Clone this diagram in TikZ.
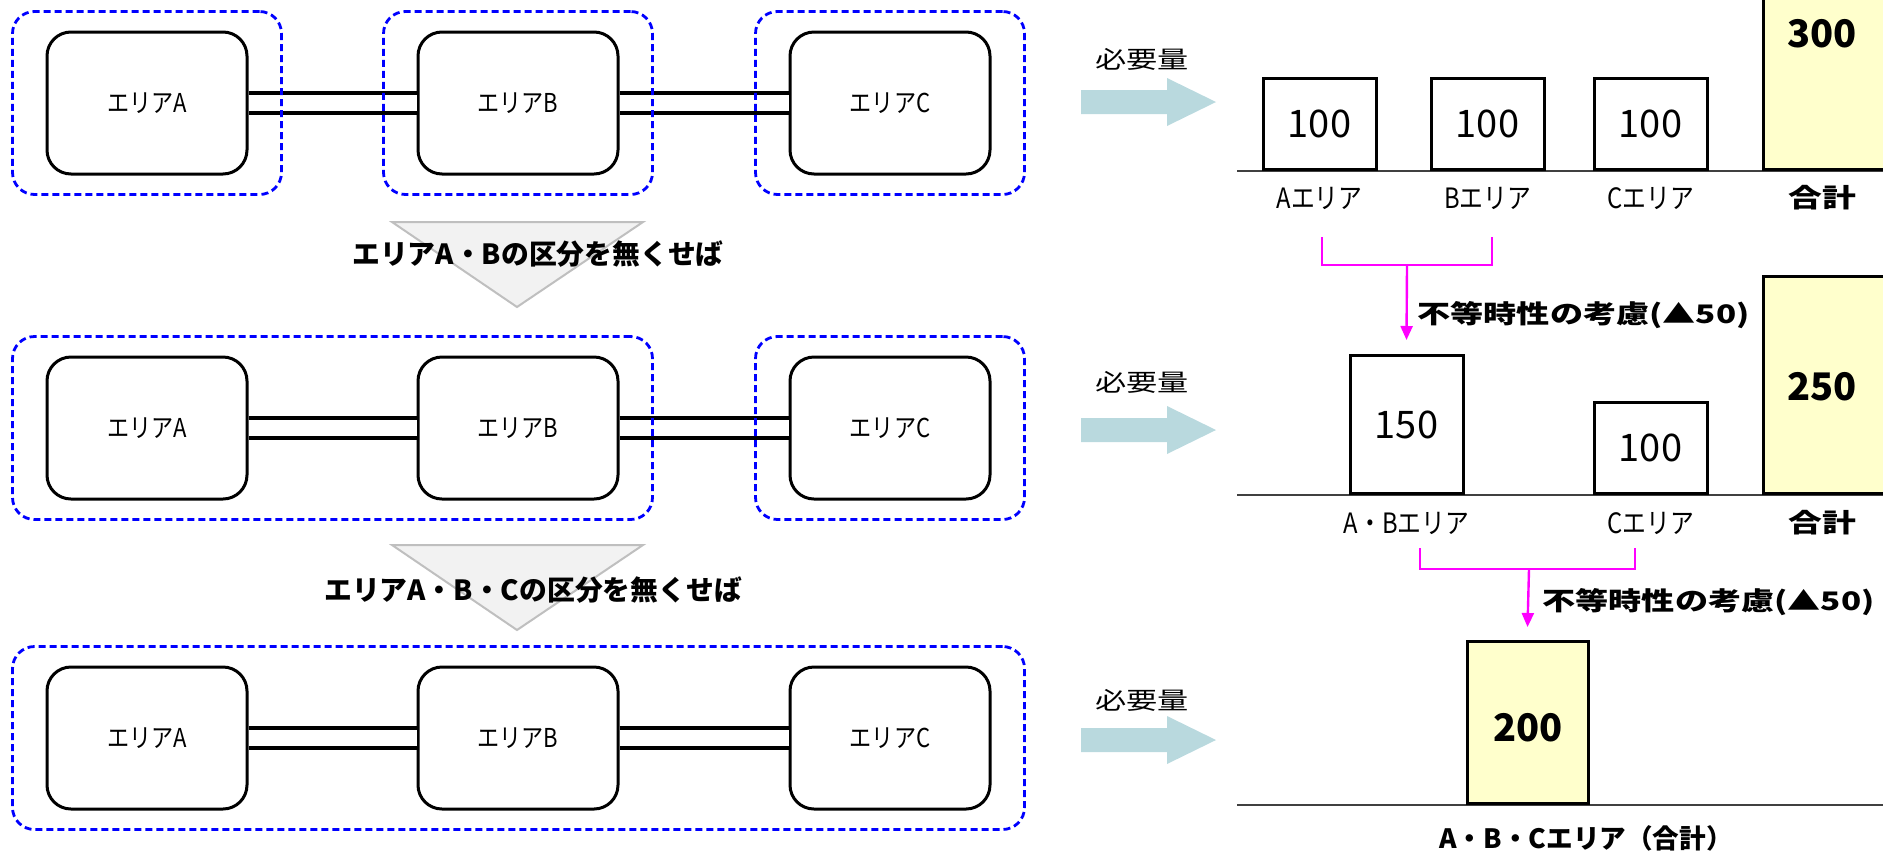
\documentclass[tikz,border=0pt]{standalone}
\usepackage{fontspec}
\setmainfont{Noto Sans CJK JP}
\newfontfamily\jpw{Noto Sans CJK JP}[FakeStretch=1.3]
\newfontfamily\jpc{Noto Sans CJK JP}[FakeStretch=0.85]
\usetikzlibrary{arrows.meta,fit}
\definecolor{dblue}{RGB}{0,0,255}
\definecolor{trifill}{RGB}{242,242,242}
\definecolor{tridraw}{RGB}{191,191,191}
\definecolor{bigarrow}{RGB}{185,217,222}
\definecolor{magc}{RGB}{255,0,255}
\definecolor{totfill}{RGB}{255,255,204}
\definecolor{basec}{RGB}{64,64,64}
\begin{document}
\begin{tikzpicture}[x=0.5pt,y=-0.5pt,
  area/.style={draw, line width=1.5pt, rounded corners=12pt, minimum width=100pt, minimum height=71pt, inner sep=0pt, font=\jpc\fontsize{13pt}{15pt}\selectfont},
  grp/.style={draw=dblue, line width=1.4pt, dash pattern=on 3.5pt off 2pt, rounded corners=11pt, inner xsep=16.5pt, inner ysep=9.5pt},
  link/.style={double, line width=1.6pt, double distance=8.4pt},
  tri/.style={fill=trifill, draw=tridraw, line width=1pt},
  stepnote/.style={font=\fontsize{13.9pt}{16pt}\selectfont\bfseries, inner sep=0pt},
  bigarr/.style={fill=bigarrow},
  need/.style={font=\jpw\fontsize{12pt}{14pt}\selectfont, inner sep=0pt},
  bar/.style={draw, line width=1.5pt, fill=white, inner sep=0pt, minimum width=56.5pt, anchor=south, font=\fontsize{19pt}{21pt}\selectfont},
  totbar/.style={draw, line width=1.5pt, fill=totfill, inner sep=0pt, anchor=south},
  totnum/.style={font=\fontsize{19pt}{21pt}\selectfont\bfseries, inner sep=0pt},
  axl/.style={font=\jpc\fontsize{14pt}{16pt}\selectfont, inner sep=0pt},
  axlb/.style={font=\jpw\fontsize{13pt}{15pt}\selectfont\bfseries, inner sep=0pt},
  base/.style={draw=basec, line width=1pt},
  magl/.style={draw=magc, line width=1.2pt},
  magnote/.style={font=\jpw\fontsize{12.75pt}{15pt}\selectfont\bfseries, inner sep=0pt, anchor=west}
]
\useasboundingbox (0,0) rectangle (1883,852);

% ---------- left: areas ----------
\foreach \r/\y in {1/103, 2/428, 3/738} {
  \node[area] (a\r) at (147,\y) {エリアA};
  \node[area] (b\r) at (518,\y) {エリアB};
  \node[area] (c\r) at (890,\y) {エリアC};
  \draw[link] (a\r) -- (b\r);
  \draw[link] (b\r) -- (c\r);
}
\node[grp, fit=(a1)] (g1a) {};
\node[grp, fit=(b1)] (g1b) {};
\node[grp, fit=(c1)] (g1c) {};
\node[grp, fit=(a2)(b2)] (g2ab) {};
\node[grp, fit=(c2)] (g2c) {};
\node[grp, fit=(a3)(c3)] (g3) {};

% ---------- transition triangles ----------
\filldraw[tri] (392,222) -- (643,222) -- (517,307) -- cycle;
\node[stepnote] (s1) at (538,254) {エリアA・Bの区分を無くせば};
\filldraw[tri] (392,545) -- (643,545) -- (517,630) -- cycle;
\node[stepnote] (s2) at (533,590) {エリアA・B・Cの区分を無くせば};

% ---------- big arrows ----------
\foreach \r/\y in {1/102, 2/430, 3/740} {
  \fill[bigarr] (1081,\y-12) -- (1167,\y-12) -- (1167,\y-24) -- (1216,\y) -- (1167,\y+24) -- (1167,\y+12) -- (1081,\y+12) -- cycle;
}
\node[need] (n1) at (1142,59) {必要量};
\node[need] (n2) at (1142,382) {必要量};
\node[need] (n3) at (1142,700) {必要量};

% ---------- row 1 bars ----------
\draw[base] (1237,171) -- (1883,171);
\node[bar, minimum height=45.5pt] (p1a) at (1319.5,171) {100};
\node[bar, minimum height=45.5pt] (p1b) at (1487.5,171) {100};
\node[bar, minimum height=45.5pt] (p1c) at (1650.5,171) {100};
\node[totbar, minimum width=68pt, minimum height=95pt] (p1t) at (1831,171) {};
\node[totnum] (v1t) at (1822,34) {300};
\node[axl] (l1a) at (1319.5,198) {Aエリア};
\node[axl] (l1b) at (1487.5,198) {Bエリア};
\node[axl] (l1c) at (1650.5,198) {Cエリア};
\node[axlb] (l1t) at (1822,198) {合計};

% ---------- row 2 bars ----------
\draw[base] (1237,495) -- (1883,495);
\node[bar, minimum height=69pt] (p2ab) at (1406.5,495) {150};
\node[bar, minimum height=45.5pt] (p2c) at (1650.5,495) {100};
\node[totbar, minimum width=68pt, minimum height=108.5pt] (p2t) at (1831,495) {};
\node[totnum] (v2t) at (1822,387) {250};
\node[axl] (l2ab) at (1406.5,523) {A・Bエリア};
\node[axl] (l2c) at (1650.5,523) {Cエリア};
\node[axlb] (l2t) at (1822,523) {合計};

% ---------- row 3 bar ----------
\draw[base] (1237,805) -- (1883,805);
\node[totbar, minimum width=60.5pt, minimum height=81pt] (p3) at (1527.5,805) {};
\node[totnum] (v3) at (1528,728) {200};
\node[font=\fontsize{13.3pt}{15pt}\selectfont\bfseries, inner sep=0pt] (l3) at (1586,838) {A・B・Cエリア（合計）};

% ---------- magenta brackets ----------
\coordinate (m1l) at (1322,237);
\coordinate (m1r) at (1492,237);
\coordinate (m1m) at (1407,265);
\draw[magl] (m1l) |- (m1m) -| (m1r);
\draw[magl, -{Triangle[length=7pt,width=6pt]}] (m1m) -- ([yshift=7pt]p2ab.north);
\node[magnote] (d1) at (1417,315) {不等時性の考慮(▲50)};

\coordinate (m2l) at (1420,548);
\coordinate (m2r) at (1635,548);
\coordinate (m2m) at (1529,569);
\draw[magl] (m2l) |- (m2m) -| (m2r);
\draw[magl, -{Triangle[length=7pt,width=6pt]}] (m2m) -- ([yshift=6.5pt]p3.north);
\node[magnote] (d2) at (1542,602) {不等時性の考慮(▲50)};
\end{tikzpicture}
\end{document}
